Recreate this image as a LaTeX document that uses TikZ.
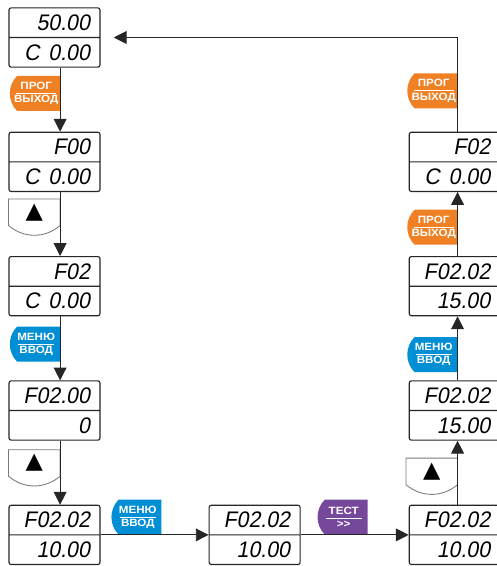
\documentclass[tikz,border=0pt]{standalone}
\usepackage{fontspec}
\usepackage{tikz}
\usetikzlibrary{shapes.multipart,shapes.misc,arrows.meta,positioning}

\newfontfamily\lcdfont{Liberation Sans}[FakeStretch=0.95,FakeSlant=0.18]
\newfontfamily\keyfont{Liberation Sans}[FakeStretch=1.1]
\newfontfamily\symfont{DejaVu Sans}

\definecolor{progorange}{RGB}{240,128,36}
\definecolor{menublue}{RGB}{0,142,212}
\definecolor{testpurple}{RGB}{118,72,156}
\definecolor{keygray}{RGB}{120,120,120}

\begin{document}
\begin{tikzpicture}[
    node distance=1.6cm,
    display/.style={rectangle split, rectangle split parts=2, draw=black!85, fill=white, line width=0.8pt, rounded corners=1.5pt, text width=1.775cm, align=right, inner xsep=0.25cm, inner ysep=0.157cm, font=\lcdfont\fontsize{16}{18}\selectfont},
    badge/.style={rounded rectangle, rounded rectangle right arc=none, rounded rectangle arc length=90, minimum width=1.25cm, minimum height=0.875cm, inner sep=0pt, text=white, align=center, font=\keyfont\bfseries\fontsize{7.5}{9}\selectfont},
    progbadge/.style={badge, fill=progorange},
    menubadge/.style={badge, fill=menublue},
    testbadge/.style={badge, fill=testpurple},
    upkey/.style={minimum width=1.275cm, minimum height=0.65cm, inner sep=0pt, font=\symfont\fontsize{16}{16}\selectfont},
    keyline/.style={draw=keygray, line width=0.6pt},
    arrow/.style={-{Triangle[length=0.32cm,width=0.32cm]}, draw=black!85, line width=0.7pt}
]
\useasboundingbox (0,0) rectangle (12.425,-14.15);

% displays, left column going down
\node[display] (d1) at (1.3625,-0.9375) {50.00\nodepart{two}\makebox[\hsize]{\hspace{0.125cm}C\hfill 0.00}};
\node[display, below=of d1] (d2) {F00\nodepart{two}\makebox[\hsize]{\hspace{0.125cm}C\hfill 0.00}};
\node[display, below=of d2] (d3) {F02\nodepart{two}\makebox[\hsize]{\hspace{0.125cm}C\hfill 0.00}};
\node[display, below=of d3] (d4) {F02.00\nodepart{two}0};
\node[display, below=of d4] (d5) {F02.02\nodepart{two}10.00};
% bottom row and right column going up
\node[display, right=2.7cm of d5] (d6) {F02.02\nodepart{two}10.00};
\node[display, right=2.7cm of d6] (d7) {F02.02\nodepart{two}10.00};
\node[display, above=of d7] (d8) {F02.02\nodepart{two}15.00};
\node[display, above=of d8] (d9) {F02.02\nodepart{two}15.00};
\node[display, above=of d9] (d10) {F02\nodepart{two}\makebox[\hsize]{\hspace{0.125cm}C\hfill 0.00}};

% keys
\node[progbadge, below left=0.2cm and -0.14cm of d1.south] (pg1) {ПРОГ\\[-6pt]\rule{1cm}{0.6pt}\\[-2.6pt]ВЫХОД};
\node[upkey, below left=0.175cm and -0.14cm of d2.south] (up1) {▲};
\node[menubadge, below left=0.25cm and -0.14cm of d3.south] (mv1) {МЕНЮ\\[-6pt]\rule{0.9cm}{0.6pt}\\[-2.6pt]ВВОД};
\node[upkey, below left=0.225cm and -0.14cm of d4.south] (up2) {▲};
\node[menubadge, above right=0cm and 0.45cm of d5.east] (mv2) {МЕНЮ\\[-6pt]\rule{0.9cm}{0.6pt}\\[-2.6pt]ВВОД};
\node[testbadge, above right=0cm and 0.6cm of d6.east] (ts1) {ТЕСТ\\[-6pt]\rule{0.9cm}{0.6pt}\\[-2.6pt]>>};
\node[upkey, above left=0.5cm and -0.07cm of d7.north] (up3) {▲};
\node[menubadge, above left=0.2cm and -0.07cm of d8.north] (mv3) {МЕНЮ\\[-6pt]\rule{0.9cm}{0.6pt}\\[-2.6pt]ВВОД};
\node[progbadge, above left=0.275cm and -0.07cm of d9.north] (pg2) {ПРОГ\\[-6pt]\rule{1cm}{0.6pt}\\[-2.6pt]ВЫХОД};
\node[progbadge, above left=0.575cm and -0.07cm of d10.north] (pg3) {ПРОГ\\[-6pt]\rule{1cm}{0.6pt}\\[-2.6pt]ВЫХОД};

\foreach \k in {up1,up2,up3}
  \draw[keyline] (\k.north east) -- (\k.north west) -- (\k.south west) to[bend right=40] (\k.south east) -- cycle;

% connectors
\foreach \a/\b in {d1/d2,d2/d3,d3/d4,d4/d5}
  \draw[arrow] ([xshift=0.14cm]\a.south) -- ([xshift=0.14cm]\b.north);
\draw[arrow] (d5.east) -- (d6.west);
\draw[arrow] (d6.east) -- (d7.west);
\foreach \a/\b in {d7/d8,d8/d9,d9/d10}
  \draw[arrow] ([xshift=0.07cm]\a.north) -- ([xshift=0.07cm]\b.south);
\draw[arrow, shorten >=0.33cm] ([xshift=0.07cm]d10.north) |- (d1.east);
\end{tikzpicture}
\end{document}
